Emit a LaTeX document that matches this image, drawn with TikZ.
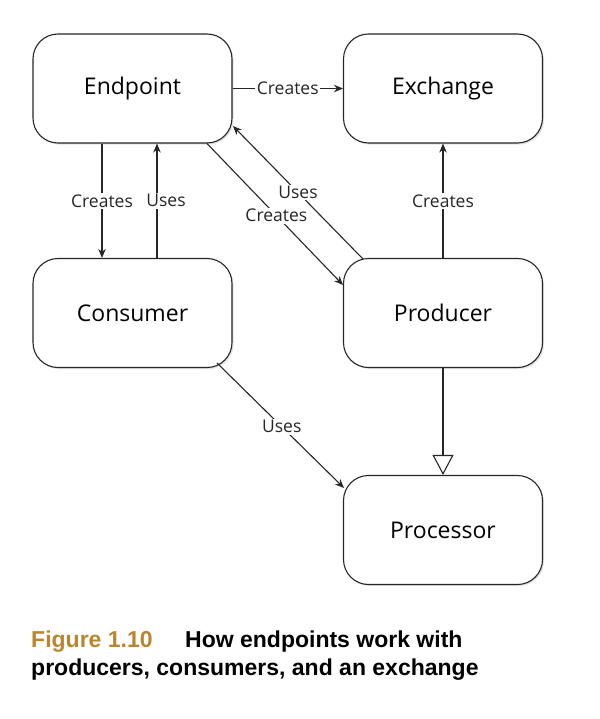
\documentclass[tikz,border=0pt]{standalone}
\usepackage{fontspec}
\setmainfont{Open Sans}
\newfontfamily\capfont{Liberation Sans}
\usetikzlibrary{arrows.meta,shadows}
\definecolor{figgold}{RGB}{184,134,46}
\tikzset{
  box/.style={draw=black!85, line width=1.1pt, rounded corners=25pt, fill=white,
    minimum width=199pt, minimum height=109pt, font=\fontsize{23}{26}\selectfont,
    drop shadow={shadow xshift=1.6pt, shadow yshift=-1.6pt, fill=black!22}},
  arr/.style={draw=black!85, line width=1.1pt, -{Stealth[length=9pt,width=7.5pt]}},
  inh/.style={draw=black!85, line width=1.1pt, -{Triangle[open,length=20pt,width=21pt,line width=1.1pt]}},
  lbl/.style={fill=white, inner sep=1.5pt, font=\fontsize{17.5}{20}\selectfont, text=black!85},
  captext/.style={anchor=base west, inner sep=0pt, font=\capfont\bfseries\fontsize{23}{26}\selectfont}
}
\begin{document}
\begin{tikzpicture}[x=1pt,y=-1pt]
\useasboundingbox (0,0) rectangle (599,719);
\node[box] (endpoint) at (132.5,88.5) {Endpoint};
\node[box] (exchange) at (443,88.5) {Exchange};
\node[box] (consumer) at (132.5,313) {Consumer};
\node[box] (producer) at (443,313) {Producer};
\node[box] (processor) at (443,530) {Processor};
% helper coordinates
\coordinate (cdx) at (102,0);
\coordinate (cux) at (157,0);
\coordinate (epA) at (207,143.5);
\coordinate (prA) at (343,285);
\coordinate (prB) at (363,259);
\coordinate (epB) at (233,126);
\coordinate (coA) at (217,363);
\coordinate (pcA) at (344,488);
% connectors
\draw[arr] (endpoint.east) -- node[lbl]{Creates} (exchange.west);
\draw[arr] (endpoint.south -| cdx) -- node[lbl, pos=0.5]{Creates} (consumer.north -| cdx);
\draw[arr] (consumer.north -| cux) -- node[lbl, pos=0.5, xshift=9pt]{Uses} (endpoint.south -| cux);
\draw[arr] (epA) -- node[lbl, pos=0.51]{Creates} (prA);
\draw[arr] (prB) -- node[lbl, pos=0.5]{Uses} (epB);
\draw[arr] (producer.north) -- node[lbl]{Creates} (exchange.south);
\draw[arr] (coA) -- node[lbl, pos=0.51]{Uses} (pcA);
\draw[inh] (producer.south) -- (processor.north);
% caption
\node[captext, text=figgold] (figlbl) at (31,647) {Figure 1.10};
\node[captext] (cap1) at (185,647) {How endpoints work with};
\node[captext] (cap2) at (31,675) {producers, consumers, and an exchange};
\end{tikzpicture}
\end{document}
